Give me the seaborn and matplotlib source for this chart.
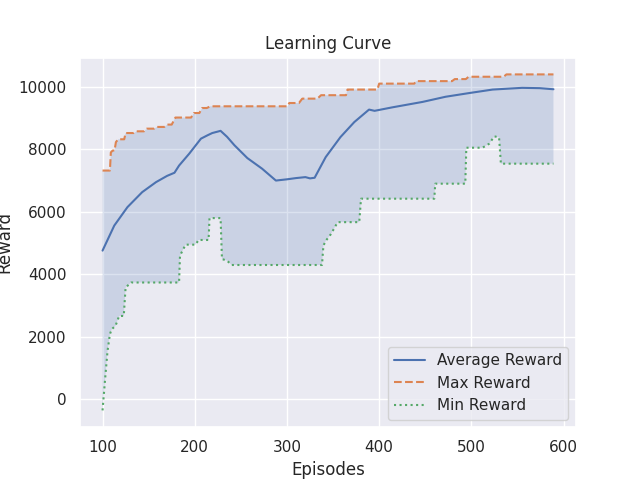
import numpy as np
import matplotlib
matplotlib.use("Agg")
import matplotlib.pyplot as plt
import seaborn as sns

# Average reward (episode, value)
avg_ep = [100, 112.7, 127, 143, 158, 170, 178, 183, 194, 206.7, 214, 219, 228, 235, 243,
          257, 273, 288, 300, 310, 320, 325, 330, 342, 358, 373, 389, 395, 414, 447,
          472, 498, 523, 555, 574, 589]
avg_val = [4760, 5560, 6150, 6630, 6950, 7150, 7250, 7480, 7860, 8340, 8450, 8520, 8590, 8400, 8130,
           7720, 7380, 7000, 7040, 7080, 7110, 7070, 7090, 7750, 8390, 8870, 9270, 9230, 9340, 9515,
           9680, 9800, 9910, 9965, 9955, 9920]

# Max reward (episode, value)
max_ep = [100, 108, 109, 111, 113, 114.5, 117, 123.5, 125, 134, 137, 145, 148, 156, 159, 167,
          170, 175, 179, 196, 199, 205, 208, 213, 217, 300.7, 302.5, 313, 316.6, 333, 337, 364,
          365.6, 398, 400, 438, 440, 479, 482, 494, 497, 535, 538, 589]
max_val = [7320, 7320, 7900, 7960, 7960, 8230, 8320, 8320, 8520, 8520, 8575, 8575, 8660, 8660, 8715, 8715,
           8790, 8790, 9015, 9015, 9160, 9160, 9320, 9320, 9375, 9375, 9480, 9480, 9620, 9620, 9730, 9730,
           9910, 9910, 10100, 10100, 10180, 10180, 10245, 10245, 10320, 10320, 10395, 10395]

# Min reward (episode, value)
min_ep = [100, 102.6, 105.4, 108, 110, 114, 118, 123, 125, 131, 183, 184, 190, 201, 204, 215,
          216, 228, 229.5, 235, 240, 338, 339.5, 342.3, 347.7, 355, 378.4, 380.3, 459.8, 460.8,
          493.4, 494.5, 512, 519.4, 524.8, 530, 532, 589]
min_val = [-350, 590, 1550, 2090, 2250, 2350, 2670, 2670, 3580, 3740, 3740, 4600, 4950, 4950, 5100, 5100,
           5800, 5800, 4490, 4440, 4300, 4300, 4920, 5080, 5290, 5670, 5670, 6420, 6420, 6900,
           6900, 8050, 8050, 8180, 8415, 8380, 7540, 7540]

sns.set_theme()
fig, ax = plt.subplots(figsize=(6.4, 4.8), dpi=100)

pal = sns.color_palette()
ax.fill(np.concatenate([max_ep, min_ep[::-1]]),
        np.concatenate([max_val, min_val[::-1]]),
        color=pal[0], alpha=0.2, linewidth=0, zorder=1)

sns.lineplot(x=avg_ep, y=avg_val, ax=ax, color=pal[0], label="Average Reward", linewidth=1.5)
sns.lineplot(x=max_ep, y=max_val, ax=ax, color=pal[1], linestyle="--", label="Max Reward", linewidth=1.5)
sns.lineplot(x=min_ep, y=min_val, ax=ax, color=pal[2], linestyle=":", label="Min Reward", linewidth=1.5)

ax.set_title("Learning Curve")
ax.set_xlabel("Episodes")
ax.set_ylabel("Reward")
ax.legend(loc="lower right")

fig.savefig("out.png", dpi=100)
